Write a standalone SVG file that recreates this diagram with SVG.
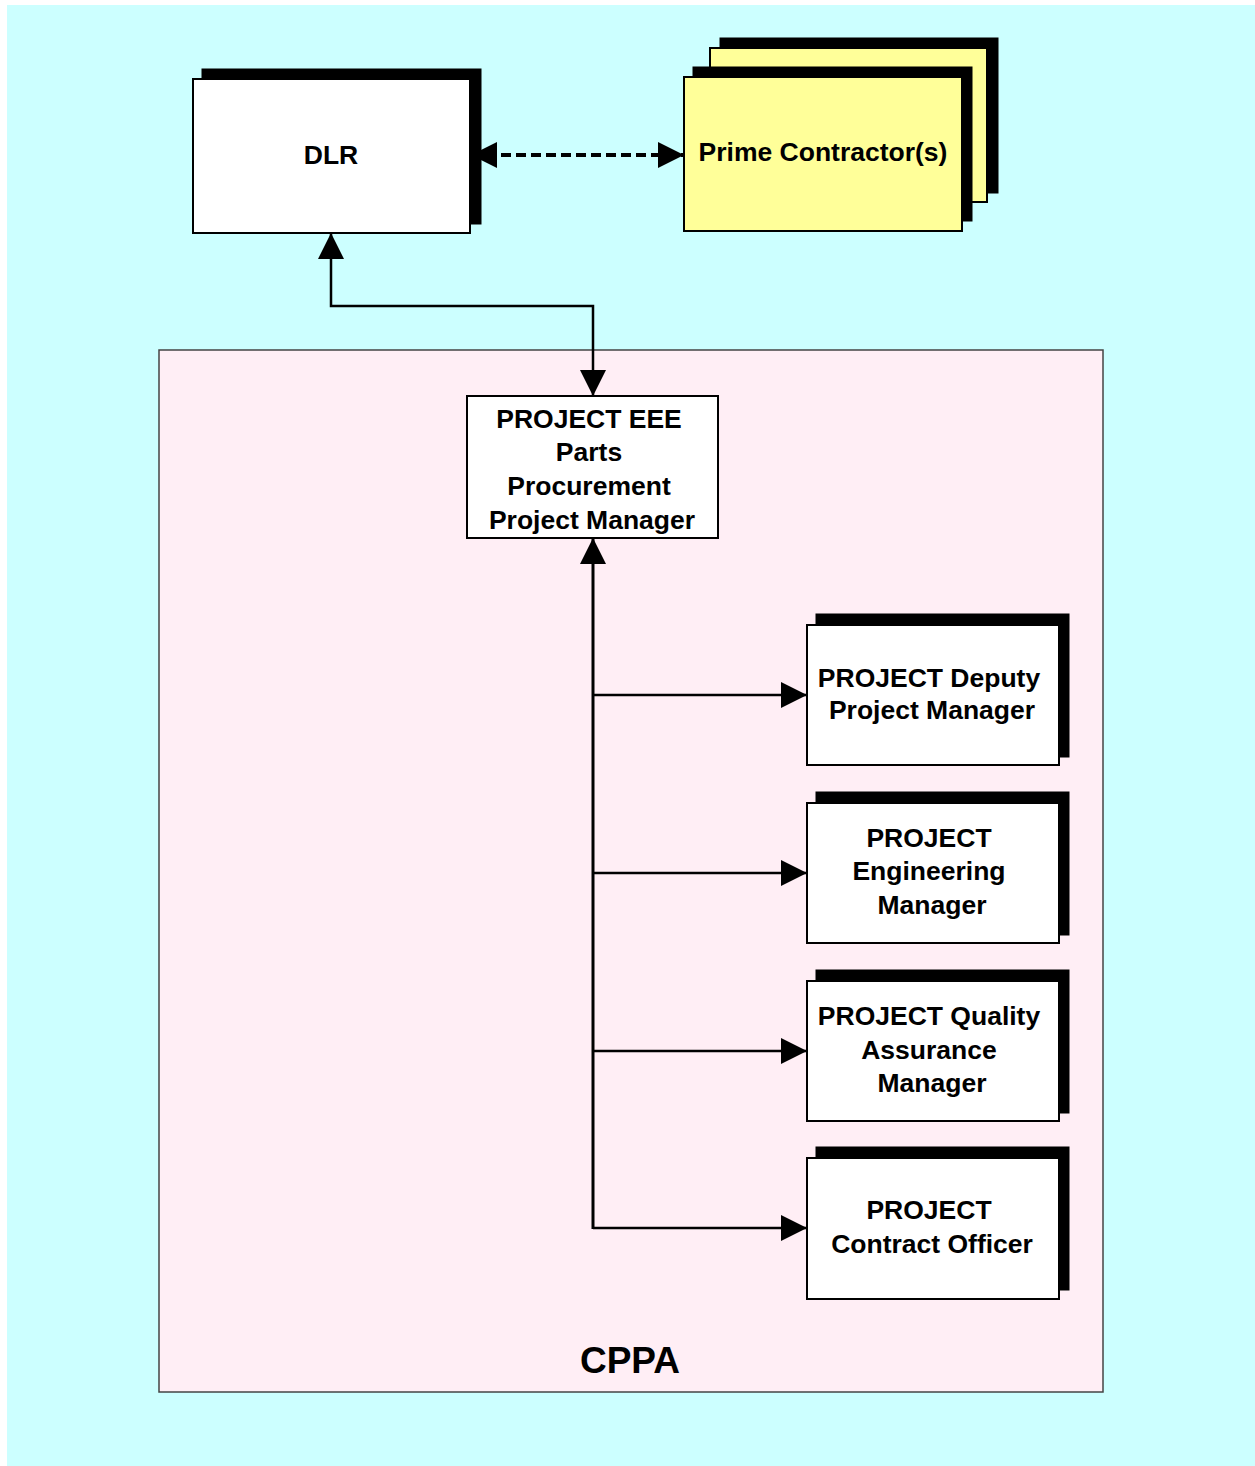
<svg xmlns="http://www.w3.org/2000/svg" width="1255" height="1466" viewBox="0 0 1255 1466">
<defs>
<style>
.t{font-family:"Liberation Sans",Arial,sans-serif;font-weight:bold;font-size:26.5px;fill:#000;text-anchor:middle}
.box{fill:#fff;stroke:#000;stroke-width:2}
.yel{fill:#ffff99;stroke:#000;stroke-width:2}
.sh{fill:#000;stroke:#000;stroke-width:1}
.ln{fill:none;stroke:#000;stroke-width:2.5}
.tr{stroke-width:3}
.da{stroke-width:4;stroke-dasharray:10,5}
</style>
<marker id="ah" markerUnits="userSpaceOnUse" markerWidth="26" markerHeight="26" refX="24" refY="12" orient="auto-start-reverse" viewBox="0 0 24 24">
<path d="M0,0 L24,12 L0,24 Z" fill="#000"/>
</marker>
</defs>
<rect x="0" y="0" width="1255" height="1466" fill="#fff"/>
<rect x="7" y="5" width="1248" height="1461" fill="#ccffff"/>
<g id="cppa">
<rect x="159" y="350" width="944" height="1042" fill="#ffeef5" stroke="#444" stroke-width="1.5"/>
<text class="t" x="630" y="1373" style="font-size:37px">CPPA</text>
</g>
<g id="dlr">
<rect class="sh" x="202" y="69" width="279" height="155"/>
<rect class="box" x="193" y="79" width="277" height="154"/>
<text class="t" x="331" y="164">DLR</text>
</g>
<g id="prime">
<rect class="sh" x="720" y="38" width="278" height="155"/>
<rect class="yel" x="710" y="48" width="277" height="154"/>
<rect class="sh" x="693" y="67" width="279" height="154"/>
<rect class="yel" x="684" y="77" width="278" height="154"/>
<text class="t" x="823" y="161">Prime Contractor(s)</text>
</g>
<g id="eee">
<rect class="box" x="467" y="396" width="251" height="142"/>
<text class="t" x="589" y="428">PROJECT EEE</text>
<text class="t" x="589" y="461">Parts</text>
<text class="t" x="589" y="495">Procurement</text>
<text class="t" x="592" y="529">Project Manager</text>
</g>
<g id="deputy">
<rect class="sh" x="816" y="614" width="253" height="143"/>
<rect class="box" x="807" y="625" width="252" height="140"/>
<text class="t" x="929" y="687">PROJECT Deputy</text>
<text class="t" x="932" y="719">Project Manager</text>
</g>
<g id="engineering">
<rect class="sh" x="816" y="792" width="253" height="143"/>
<rect class="box" x="807" y="803" width="252" height="140"/>
<text class="t" x="929" y="847">PROJECT</text>
<text class="t" x="929" y="880">Engineering</text>
<text class="t" x="932" y="914">Manager</text>
</g>
<g id="qa">
<rect class="sh" x="816" y="970" width="253" height="143"/>
<rect class="box" x="807" y="981" width="252" height="140"/>
<text class="t" x="929" y="1025">PROJECT Quality</text>
<text class="t" x="929" y="1059">Assurance</text>
<text class="t" x="932" y="1092">Manager</text>
</g>
<g id="contract">
<rect class="sh" x="816" y="1147" width="253" height="143"/>
<rect class="box" x="807" y="1158" width="252" height="141"/>
<text class="t" x="929" y="1219">PROJECT</text>
<text class="t" x="932" y="1253">Contract Officer</text>
</g>
<g id="connectors">
<path class="ln da" d="M471,155 L684,155" marker-start="url(#ah)" marker-end="url(#ah)"/>
<path class="ln" d="M331,233 L331,306 L593,306 L593,396" marker-start="url(#ah)" marker-end="url(#ah)"/>
<path class="ln tr" d="M593,538 L593,1229" marker-start="url(#ah)"/>
<path class="ln" d="M593,695 L807,695" marker-end="url(#ah)"/>
<path class="ln" d="M593,873 L807,873" marker-end="url(#ah)"/>
<path class="ln" d="M593,1051 L807,1051" marker-end="url(#ah)"/>
<path class="ln" d="M593,1228 L807,1228" marker-end="url(#ah)"/>
</g>
</svg>
